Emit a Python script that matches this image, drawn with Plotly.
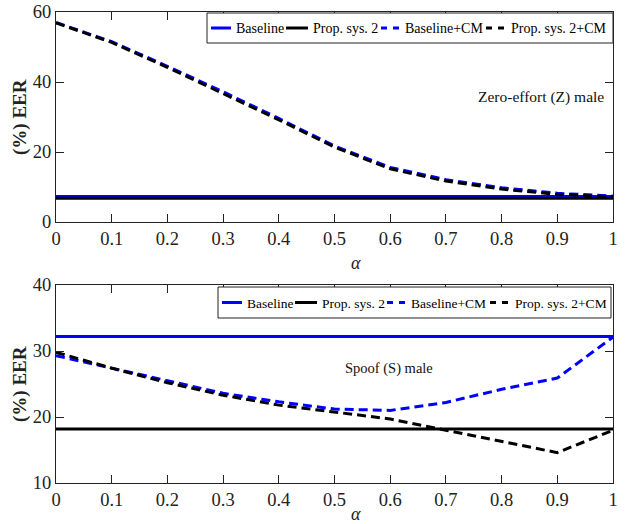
import plotly.graph_objects as go

alpha = [0.0, 0.1, 0.2, 0.3, 0.4, 0.5, 0.6, 0.7, 0.8, 0.9, 1.0]

# Zero-effort (Z) male
z_baseline = [7.3, 7.3, 7.3, 7.3, 7.3, 7.3, 7.3, 7.3, 7.3, 7.3, 7.3]
z_prop2 = [6.8, 6.8, 6.8, 6.8, 6.8, 6.8, 6.8, 6.8, 6.8, 6.8, 6.8]
z_base_cm = [57.0, 51.5, 44.5, 37.2, 29.6, 21.7, 15.6, 12.1, 9.8, 8.2, 7.4]
z_prop2_cm = [56.9, 51.3, 44.2, 36.8, 29.2, 21.4, 15.2, 11.7, 9.4, 7.9, 7.2]

# Spoof (S) male
s_baseline = [32.2, 32.2, 32.2, 32.2, 32.2, 32.2, 32.2, 32.2, 32.2, 32.2, 32.2]
s_prop2 = [18.2, 18.2, 18.2, 18.2, 18.2, 18.2, 18.2, 18.2, 18.2, 18.2, 18.2]
s_base_cm = [29.3, 27.4, 25.4, 23.6, 22.3, 21.2, 21.0, 22.2, 24.2, 25.9, 32.1]
s_prop2_cm = [29.8, 27.4, 25.2, 23.3, 21.8, 20.7, 19.7, 18.0, 16.3, 14.6, 18.0]

names = ["Baseline", "Prop. sys. 2", "Baseline+CM", "Prop. sys. 2+CM"]
colors = ["#0000ff", "#000000", "#0000ff", "#000000"]
dashes = ["solid", "solid", "9px,5px", "9px,5px"]

x_ticks = [0, 0.1, 0.2, 0.3, 0.4, 0.5, 0.6, 0.7, 0.8, 0.9, 1]
x_tick_text = ["0", "0.1", "0.2", "0.3", "0.4", "0.5", "0.6", "0.7", "0.8", "0.9", "1"]
top_y_ticks = [0, 20, 40, 60]
bot_y_ticks = [10, 20, 30, 40]

FONT = "Liberation Serif"
W, H = 625, 524

fig = go.Figure()

for ys, nm, c, d in zip([z_baseline, z_prop2, z_base_cm, z_prop2_cm], names, colors, dashes):
    fig.add_trace(go.Scatter(x=alpha, y=ys, mode="lines", name=nm, showlegend=False,
                             line=dict(color=c, width=3, dash=d),
                             xaxis="x", yaxis="y"))

for ys, nm, c, d in zip([s_baseline, s_prop2, s_base_cm, s_prop2_cm], names, colors, dashes):
    fig.add_trace(go.Scatter(x=alpha, y=ys, mode="lines", name=nm, showlegend=False,
                             line=dict(color=c, width=3, dash=d),
                             xaxis="x2", yaxis="y2"))

x0, x1 = 56 / W, 613 / W
top_dom = [1 - 222 / H, 1 - 12 / H]
bot_dom = [1 - 483 / H, 1 - 285 / H]

axis_common = dict(showgrid=False, zeroline=False, showline=True, linecolor="#222222",
                   linewidth=1.2, mirror="ticks", ticks="inside", ticklen=8,
                   tickcolor="#222222", tickwidth=1, automargin=False,
                   tickfont=dict(family=FONT, size=18.5, color="#222222"))

fig.update_layout(
    width=W, height=H,
    margin=dict(l=0, r=0, t=0, b=0, autoexpand=False),
    paper_bgcolor="white", plot_bgcolor="white",
    showlegend=False,
    xaxis=dict(domain=[x0, x1], range=[0, 1], anchor="y", tickvals=x_ticks,
               ticktext=x_tick_text, **axis_common),
    yaxis=dict(domain=top_dom, range=[0, 60], anchor="x", tickvals=top_y_ticks, **axis_common),
    xaxis2=dict(domain=[x0, x1], range=[0, 1], anchor="y2", tickvals=x_ticks,
                ticktext=x_tick_text, **axis_common),
    yaxis2=dict(domain=bot_dom, range=[10, 40], anchor="x2", tickvals=bot_y_ticks, **axis_common),
)


def px_x(v):
    return v / W


def px_y(v):
    return 1 - v / H


# Legend boxes (layout decoration, in paper pixel positions)
legend_specs = [
    (207, 613, 13, 43, [(211, 231, 234), (286, 308, 311), (381, 400, 403), (486, 506, 509)], 14),
    (218, 611, 287, 318, [(222, 242, 245), (295, 317, 320), (387, 406, 409), (490, 510, 513)], 13.5),
]
legend_dash = ["solid", "solid", "6px,6px", "6px,6px"]
for bl, br, bt, bb, items, fsize in legend_specs:
    fig.add_shape(type="rect", xref="paper", yref="paper",
                  x0=px_x(bl), x1=px_x(br), y0=px_y(bb), y1=px_y(bt),
                  line=dict(color="#222222", width=1), fillcolor="white", layer="above")
    yc = (bt + bb) / 2
    for (ls, le, tx), nm, c, d in zip(items, names, colors, legend_dash):
        fig.add_shape(type="line", xref="paper", yref="paper",
                      x0=px_x(ls), x1=px_x(le), y0=px_y(yc), y1=px_y(yc),
                      line=dict(color=c, width=3, dash=d), layer="above")
        fig.add_annotation(text=nm, xref="paper", yref="paper",
                           x=px_x(tx), y=px_y(yc + 1), xanchor="left", yanchor="middle",
                           showarrow=False,
                           font=dict(family=FONT, size=fsize, color="#000000"))

fig.add_annotation(text="Zero-effort (Z) male", xref="paper", yref="paper",
                   x=px_x(606), y=px_y(97), xanchor="right", yanchor="middle",
                   showarrow=False, font=dict(family=FONT, size=15.5, color="#111111"))
fig.add_annotation(text="Spoof (S) male", xref="paper", yref="paper",
                   x=px_x(389), y=px_y(368), xanchor="center", yanchor="middle",
                   showarrow=False, font=dict(family=FONT, size=14.5, color="#111111"))
for yc in [117, 384]:
    fig.add_annotation(text="<b>(%) EER</b>", xref="paper", yref="paper",
                       x=px_x(20), y=px_y(yc), xanchor="center", yanchor="middle",
                       textangle=-90, showarrow=False,
                       font=dict(family=FONT, size=19, color="#222222"))
for yc in [263, 514]:
    fig.add_annotation(text="<i>α</i>", xref="paper", yref="paper",
                       x=px_x(356), y=px_y(yc), xanchor="center", yanchor="middle",
                       showarrow=False, font=dict(family=FONT, size=18, color="#222222"))

fig.write_html("out.html", config={"displayModeBar": False},
               post_script="document.body.style.margin='0';document.body.style.overflow='hidden';")
